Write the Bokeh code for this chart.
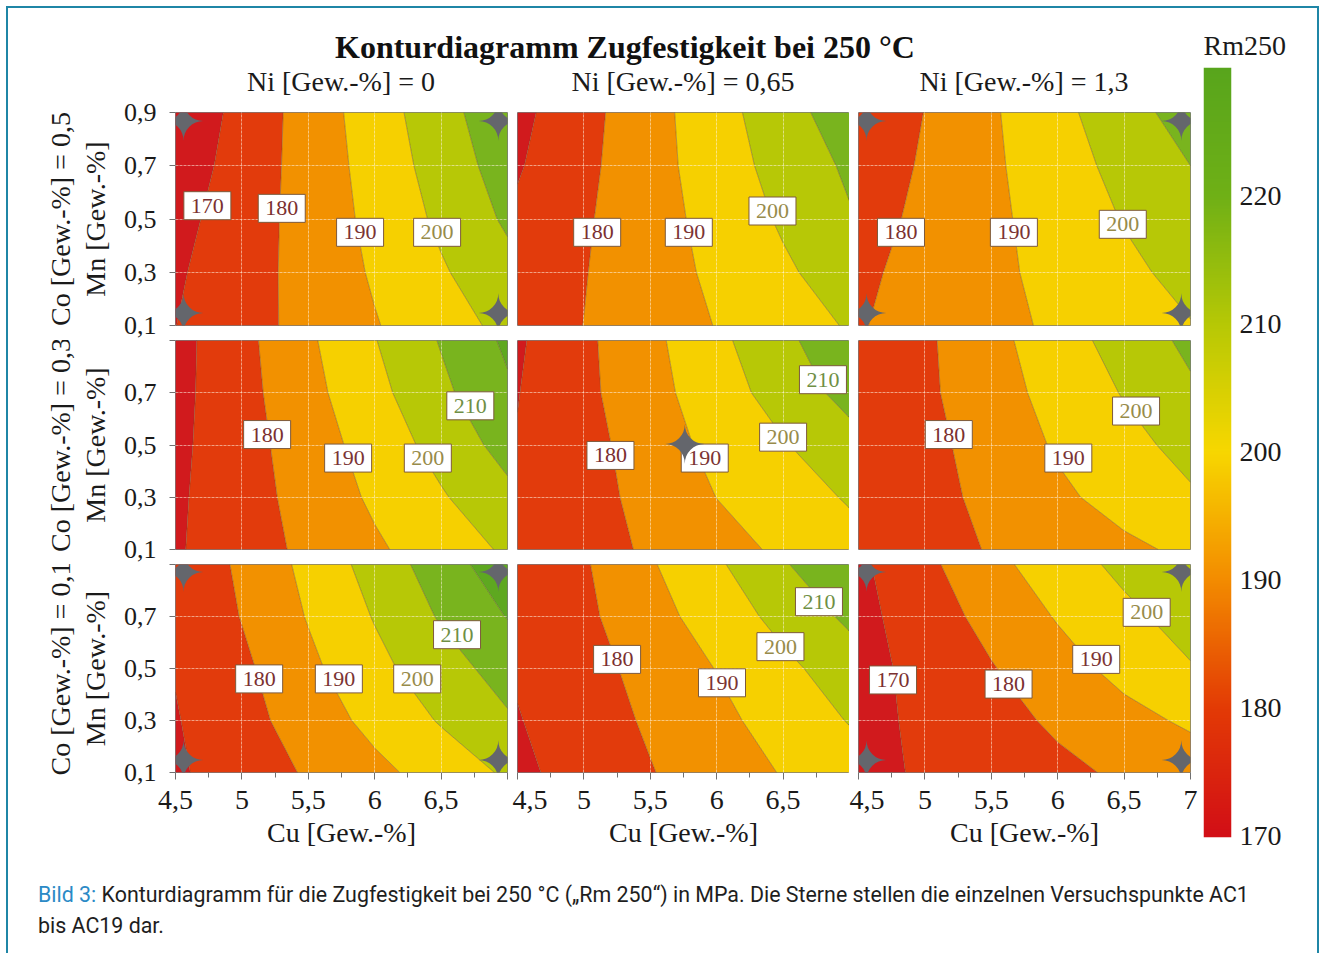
import numpy as np
from bokeh.plotting import figure
from bokeh.layouts import row, column
from bokeh.models import (Range1d, LinearAxis, FixedTicker, Grid, Label, Title, Div,
                          LinearColorMapper)
from bokeh.embed import file_html
from bokeh.resources import INLINE

# ---------------- data ----------------
CU = [4.5, 5.0, 5.5, 6.0, 6.5, 7.0]          # Cu [Gew.-%] grid
MN = [0.1, 0.3, 0.5, 0.7, 0.9]               # Mn [Gew.-%] grid
NI_LABELS = ["Ni [Gew.-%] = 0", "Ni [Gew.-%] = 0,65", "Ni [Gew.-%] = 1,3"]
CO_LABELS = ["Co [Gew.-%] = 0,5", "Co [Gew.-%] = 0,3", "Co [Gew.-%] = 0,1"]
X_TICKS = [4.5, 5, 5.5, 6, 6.5, 7]
X_TICK_LABELS = ["4,5", "5", "5,5", "6", "6,5", "7"]
X_MINOR = [4.75, 5.25, 5.75, 6.25, 6.75]
Y_TICKS = [0.1, 0.3, 0.5, 0.7, 0.9]
Y_TICK_LABELS = ["0,1", "0,3", "0,5", "0,7", "0,9"]
CB_TICKS = [170, 180, 190, 200, 210, 220]
LEVELS = [150, 170, 180, 190, 200, 210, 220, 240]

# Rm250 [MPa]; rows follow MN (0.1 ... 0.9), columns follow CU (4.5 ... 7)
RM_CO05_NI000 = [[169.9, 176.4, 182.9, 189.4, 195.9, 202.5],
                 [168.7, 175.9, 183.4, 191.1, 198.9, 207.0],
                 [166.8, 175.2, 183.7, 192.6, 201.9, 211.5],
                 [164.3, 174.1, 184.0, 193.8, 204.3, 214.5],
                 [162.0, 173.1, 184.2, 195.1, 206.2, 217.3]]
RM_CO05_NI065 = [[175.0, 180.1, 185.2, 190.3, 195.6, 200.8],
                 [173.5, 179.6, 185.7, 191.9, 198.4, 205.1],
                 [171.7, 178.9, 186.0, 193.4, 201.3, 209.2],
                 [169.1, 177.8, 186.3, 195.1, 203.7, 211.6],
                 [167.3, 176.9, 186.4, 196.2, 206.0, 215.6]]
RM_CO05_NI130 = [[179.4, 183.4, 187.4, 191.5, 195.5, 199.6],
                 [178.2, 183.0, 187.9, 192.8, 197.9, 202.9],
                 [176.2, 182.1, 188.0, 194.2, 200.5, 207.0],
                 [173.9, 181.2, 188.4, 195.7, 203.0, 210.0],
                 [171.6, 180.2, 188.8, 197.3, 205.9, 214.5]]
RM_CO03_NI000 = [[169.0, 175.5, 182.1, 188.5, 195.1, 201.3],
                 [168.5, 175.9, 183.6, 191.6, 199.0, 207.5],
                 [167.8, 176.2, 185.1, 194.2, 203.5, 213.6],
                 [167.1, 176.7, 187.0, 197.1, 207.8, 218.5],
                 [166.6, 177.2, 188.4, 199.6, 210.7, 221.8]]
RM_CO03_NI065 = [[172.5, 176.5, 181.2, 186.5, 191.6, 196.6],
                 [171.5, 176.3, 183.1, 190.1, 195.5, 200.9],
                 [170.5, 176.5, 185.0, 192.8, 199.3, 206.4],
                 [169.7, 177.7, 186.7, 195.4, 204.2, 213.3],
                 [168.7, 178.0, 187.6, 197.6, 207.6, 217.6]]
RM_CO03_NI130 = [[173.0, 176.5, 180.6, 184.8, 188.1, 191.8],
                 [172.5, 176.8, 182.4, 188.2, 193.4, 198.8],
                 [172.0, 177.2, 184.1, 191.1, 197.1, 203.0],
                 [171.5, 178.2, 185.9, 193.4, 200.6, 208.4],
                 [171.0, 178.4, 187.1, 195.6, 204.0, 212.3]]
RM_CO01_NI000 = [[168.6, 174.9, 181.0, 187.4, 194.3, 201.4],
                 [169.4, 176.6, 184.5, 192.9, 200.8, 208.8],
                 [170.5, 178.0, 187.8, 197.2, 205.8, 214.0],
                 [171.0, 180.4, 190.6, 200.6, 211.0, 220.4],
                 [171.3, 181.9, 192.7, 204.0, 215.1, 226.2]]
RM_CO01_NI065 = [[168.0, 173.7, 179.5, 185.3, 190.5, 195.5],
                 [169.5, 175.3, 181.3, 187.5, 194.0, 200.5],
                 [171.0, 176.5, 183.2, 190.3, 197.7, 205.0],
                 [171.0, 178.0, 186.3, 194.6, 203.0, 212.0],
                 [170.5, 179.0, 189.0, 198.5, 209.0, 219.0]]
RM_CO01_NI130 = [[167.6, 171.0, 174.5, 177.9, 181.4, 184.9],
                 [167.1, 171.9, 176.7, 181.5, 187.0, 191.5],
                 [166.7, 173.0, 179.4, 186.2, 192.9, 199.3],
                 [167.1, 175.2, 183.1, 190.7, 197.6, 204.0],
                 [168.1, 177.7, 187.2, 195.2, 202.5, 210.0]]

# contour labels (Cu, Mn, text)
LAB_CO05_NI000 = [(4.74, 0.55, "170"), (5.30, 0.54, "180"), (5.89, 0.45, "190"), (6.47, 0.45, "200")]
LAB_CO05_NI065 = [(5.10, 0.45, "180"), (5.79, 0.45, "190"), (6.42, 0.53, "200")]
LAB_CO05_NI130 = [(4.82, 0.45, "180"), (5.67, 0.45, "190"), (6.49, 0.48, "200")]
LAB_CO03_NI000 = [(5.19, 0.54, "180"), (5.80, 0.45, "190"), (6.40, 0.45, "200"), (6.72, 0.65, "210")]
LAB_CO03_NI065 = [(5.20, 0.46, "180"), (5.91, 0.45, "190"), (6.50, 0.53, "200"), (6.80, 0.75, "210")]
LAB_CO03_NI130 = [(5.18, 0.54, "180"), (6.08, 0.45, "190"), (6.59, 0.63, "200")]
LAB_CO01_NI000 = [(5.13, 0.46, "180"), (5.73, 0.46, "190"), (6.32, 0.46, "200"), (6.62, 0.63, "210")]
LAB_CO01_NI065 = [(5.25, 0.535, "180"), (6.04, 0.445, "190"), (6.48, 0.584, "200"), (6.77, 0.757, "210")]
LAB_CO01_NI130 = [(4.76, 0.456, "170"), (5.63, 0.44, "180"), (6.29, 0.535, "190"), (6.67, 0.716, "200")]

# test points (stars): Cu, Mn
STAR_CORNERS_CU = [4.56, 6.93, 4.56, 6.93]
STAR_CORNERS_MN = [0.866, 0.866, 0.145, 0.145]
STAR_CENTER_CU = [5.76]
STAR_CENTER_MN = [0.50]

# ---------------- style ----------------
SERIF = "Liberation Serif"
BAND_COLORS = ["#d11a1d", "#e23b0c", "#f29100", "#f6d000", "#b7c806", "#79b41e", "#5ea820"]
LABEL_TEXT_COLORS = {"170": "#7b3030", "180": "#7b3030", "190": "#7b3434",
                     "200": "#978b4a", "210": "#6f8f45"}
CB_STOPS = [170, 180, 190, 200, 210, 220, 230]
CB_COLORS = ["#d20f16", "#e33b05", "#f38c00", "#f7d700", "#b6c805", "#6fb016", "#58a51c"]


def hex2rgb(h):
    return [int(h[i:i + 2], 16) for i in (1, 3, 5)]


def make_palette(n=256):
    vals = np.linspace(CB_STOPS[0], CB_STOPS[-1], n)
    rgb = np.array([hex2rgb(c) for c in CB_COLORS], dtype=float)
    out = []
    for v in vals:
        r, g, b = (np.interp(v, CB_STOPS, rgb[:, k]) for k in range(3))
        out.append("#%02x%02x%02x" % (int(round(r)), int(round(g)), int(round(b))))
    return out


GRIDS = [[RM_CO05_NI000, RM_CO05_NI065, RM_CO05_NI130],
         [RM_CO03_NI000, RM_CO03_NI065, RM_CO03_NI130],
         [RM_CO01_NI000, RM_CO01_NI065, RM_CO01_NI130]]
LABELS = [[LAB_CO05_NI000, LAB_CO05_NI065, LAB_CO05_NI130],
          [LAB_CO03_NI000, LAB_CO03_NI065, LAB_CO03_NI130],
          [LAB_CO01_NI000, LAB_CO01_NI065, LAB_CO01_NI130]]
CORNER_STAR_PANELS = {(0, 0), (0, 2), (2, 0), (2, 2)}
CENTER_STAR_PANELS = {(1, 1)}

FRAME_W = 332
FRAME_H = [213, 209, 208]
BORDER_L = [[167, 0, 9], [167, 0, 9], [167, 5, 9]]
BORDER_R = [[10, 0, 10], [10, 0, 10], [5, 0, 10]]
BORDER_T = [14, 0, 0]
BORDER_B = [15, 15, 78]


def make_panel(r, c):
    fl, fr, ft, fb = BORDER_L[r][c], BORDER_R[r][c], BORDER_T[r], BORDER_B[r]
    p = figure(width=fl + FRAME_W + fr, height=ft + FRAME_H[r] + fb,
               x_range=Range1d(4.5, 7), y_range=Range1d(0.1, 0.9),
               x_axis_location=None, y_axis_location=None,
               toolbar_location=None, output_backend="svg", title=None,
               min_border_left=fl, min_border_right=fr,
               min_border_top=ft, min_border_bottom=fb)
    p.grid.visible = False
    p.outline_line_color = "#7a7a7a"
    p.outline_line_width = 1
    p.border_fill_color = "white"
    p.background_fill_color = "white"

    p.contour(x=CU, y=MN, z=np.array(GRIDS[r][c]), levels=LEVELS,
              fill_color=BAND_COLORS, line_color="#6b4a2a", line_alpha=0.5,
              line_width=0.9)

    p.add_layout(Grid(dimension=0, ticker=FixedTicker(ticks=[5, 5.5, 6, 6.5]),
                      grid_line_color="#fff6e6", grid_line_alpha=0.55,
                      grid_line_width=1, grid_line_dash="3 1", level="guide"))
    p.add_layout(Grid(dimension=1, ticker=FixedTicker(ticks=[0.3, 0.5, 0.7]),
                      grid_line_color="#fff6e6", grid_line_alpha=0.55,
                      grid_line_width=1, grid_line_dash="3 1", level="guide"))

    if r == 2:
        over = {t: lab for t, lab in zip(X_TICKS, X_TICK_LABELS)}
        if c != 2:
            over[7] = ""
        xa = LinearAxis(ticker=FixedTicker(ticks=X_TICKS, minor_ticks=X_MINOR),
                        major_label_overrides=over, axis_label="Cu [Gew.-%]",
                        axis_line_color=None, major_tick_line_color="#707070",
                        minor_tick_line_color="#707070", major_tick_in=0,
                        major_tick_out=7, minor_tick_in=0, minor_tick_out=5,
                        major_label_standoff=11,
                        major_label_text_font=SERIF, major_label_text_font_size="28px",
                        major_label_text_color="#1a1a1a",
                        axis_label_text_font=SERIF, axis_label_text_font_size="28px",
                        axis_label_text_font_style="normal",
                        axis_label_text_color="#1a1a1a", axis_label_standoff=5)
        p.add_layout(xa, "below")
    if c == 0:
        over = {t: lab for t, lab in zip(Y_TICKS, Y_TICK_LABELS)}
        if r != 0:
            over[0.9] = ""
        ya = LinearAxis(ticker=FixedTicker(ticks=Y_TICKS, minor_ticks=[]),
                        major_label_overrides=over, axis_label="Mn [Gew.-%]",
                        axis_line_color=None, major_tick_line_color="#707070",
                        major_tick_in=0, major_tick_out=6, minor_tick_out=0,
                        major_label_standoff=13,
                        major_label_text_font=SERIF, major_label_text_font_size="26px",
                        major_label_text_color="#1a1a1a",
                        axis_label_text_font=SERIF, axis_label_text_font_size="28px",
                        axis_label_text_font_style="normal",
                        axis_label_text_color="#1a1a1a", axis_label_standoff=10)
        p.add_layout(ya, "left")
        p.add_layout(Title(text=CO_LABELS[r], align="center", text_font=SERIF,
                           text_font_size="28px", text_font_style="normal",
                           text_color="#1a1a1a", standoff=1), "left")

    for cu, mn, txt in LABELS[r][c]:
        p.add_layout(Label(x=cu, y=mn, text=txt, text_align="center",
                           text_baseline="middle", text_font=SERIF,
                           text_font_size="22px",
                           text_color=LABEL_TEXT_COLORS[txt],
                           background_fill_color="white",
                           border_line_color="#7d5a3c", border_line_width=1,
                           padding=7))

    stars = []
    if (r, c) in CORNER_STAR_PANELS:
        stars = list(zip(STAR_CORNERS_CU, STAR_CORNERS_MN))
    if (r, c) in CENTER_STAR_PANELS:
        stars = list(zip(STAR_CENTER_CU, STAR_CENTER_MN))
    for cu, mn in stars:
        p.add_layout(Label(x=cu, y=mn, text="\u2726", text_align="center",
                           text_baseline="middle", text_font="DejaVu Sans",
                           text_font_size="52px", text_color="#64666c"))
    return p


figs = [[make_panel(r, c) for c in range(3)] for r in range(3)]

# colour bar
cb = figure(width=117, height=842, x_range=Range1d(0, 1),
            y_range=Range1d(169.85, 230.0), x_axis_location=None,
            y_axis_location=None, toolbar_location=None, output_backend="svg",
            title=None, min_border_left=3, min_border_right=86,
            min_border_top=59, min_border_bottom=13)
cb.grid.visible = False
cb.outline_line_color = None
mapper = LinearColorMapper(palette=make_palette(), low=CB_STOPS[0], high=CB_STOPS[-1])
grad = np.linspace(169.85, 230.0, 770).reshape(-1, 1)
cb.image(image=[grad], x=0, y=169.85, dw=1, dh=230.0 - 169.85, color_mapper=mapper)
cb.add_layout(LinearAxis(ticker=FixedTicker(ticks=CB_TICKS, minor_ticks=[]),
                         axis_line_color=None, major_tick_line_color=None,
                         major_tick_in=0, major_tick_out=0, minor_tick_out=0,
                         major_label_standoff=8, major_label_text_font=SERIF,
                         major_label_text_font_size="28px",
                         major_label_text_color="#1a1a1a"), "right")
cb.add_layout(Title(text="Rm250", align="left", text_font=SERIF,
                    text_font_size="28px", text_font_style="normal",
                    text_color="#1a1a1a", standoff=13), "above")

title_div = Div(width=1192, height=56, margin=0, text=(
    '<div style="font-family:\'Liberation Serif\'; font-weight:bold; font-size:32px; '
    'line-height:32px; padding-left:327px; padding-top:23px; white-space:nowrap; '
    'color:#111;">Konturdiagramm Zugfestigkeit bei 250 \u00b0C</div>'))

# column headers, each centred over its panel
HEADER_LEFT = [163, 505, 846]
header_html = ''.join(
    '<div style="position:absolute; left:%dpx; top:2px; width:340px; text-align:center; '
    'white-space:nowrap;">%s</div>' % (left, txt)
    for left, txt in zip(HEADER_LEFT, NI_LABELS))
header_div = Div(width=1192, height=34, margin=0, text=(
    '<div style="position:relative; width:1192px; height:34px; '
    'font-family:\'Liberation Serif\'; font-size:28px; line-height:32px; color:#1a1a1a;">'
    + header_html + '</div>'))

caption = Div(width=1309, height=105, margin=0, text=(
    '<div style="font-family:Roboto; font-size:21.4px; line-height:31px; '
    'padding-left:30px; padding-top:29px; white-space:nowrap; color:#1e1e1e;">'
    '<span style="color:#2b8ac6;">Bild 3:</span> Konturdiagramm f\u00fcr die '
    'Zugfestigkeit bei 250 \u00b0C (\u201eRm 250\u201c) in MPa. Die Sterne stellen die '
    'einzelnen Versuchspunkte AC1<br>bis AC19 dar.</div>'))

grid_col = column(title_div, header_div, row(*figs[0]), row(*figs[1]), row(*figs[2]))
main = row(grid_col, cb)
outer = column(main, caption, margin=(8, 0, 0, 8),
               styles={"box-shadow": "-2px -2px 0 0 #1f86a6, 2px -2px 0 0 #1f86a6",
                       "background-color": "white"})

open("out.html", "w").write(file_html(outer, INLINE))
